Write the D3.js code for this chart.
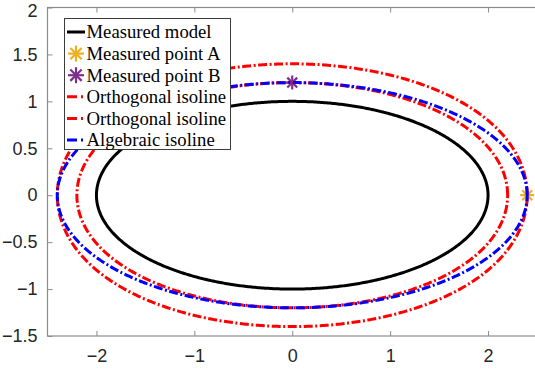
<!DOCTYPE html>
<html>
<head>
<meta charset="utf-8">
<script src="https://cdn.jsdelivr.net/npm/d3@7"></script>
<style>
  body { margin: 0; background: #fff; }
</style>
</head>
<body>
<div id="svg_container"></div>
<script>
// chart values
const modelAxes = [2, 1];            // semi-axes of the measured model ellipse
const orthoOffsets = [0.4, 0.2];     // normal distances of the two orthogonal isolines
const algebraicAxes = [2.4, 1.2];    // semi-axes of the algebraic isoline
const pointA = [2.4, 0];
const pointB = [0, 1.2];
const xTicks = [-2, -1, 0, 1, 2];
const yTicks = [-1.5, -1, -0.5, 0, 0.5, 1, 1.5, 2];
const legendLabels = ["Measured model", "Measured point A", "Measured point B",
    "Orthogonal isoline", "Orthogonal isoline", "Algebraic isoline"];

const W = 535, H = 369;
const margin = { top: 7.5, right: -2, bottom: 33, left: 47.5 },
    width = W - margin.left - margin.right,
    height = H - margin.top - margin.bottom;

const svg = d3.select("#svg_container")
    .append("svg")
    .attr("width", W)
    .attr("height", H)
    .append("g")
    .attr("transform", `translate(${margin.left}, ${margin.top})`);

const x = d3.scaleLinear().domain([-2.5, 2.5]).range([0, width]);
const y = d3.scaleLinear().domain([-1.5, 2]).range([height, 0]);

const axisColor = "#8c8c8c", textColor = "#262626";

function styleAxis(g) {
    g.selectAll("path").attr("stroke", axisColor).attr("stroke-width", 1.2);
    g.selectAll("line").attr("stroke", axisColor).attr("stroke-width", 1);
    g.selectAll("text").attr("fill", textColor)
        .attr("font-family", "Liberation Sans, Arial, sans-serif")
        .attr("font-size", "18px");
}

// bottom / left axes with labels, top / right with ticks only
svg.append("g")
    .attr("transform", `translate(0, ${height})`)
    .call(d3.axisBottom(x).tickValues(xTicks).tickSizeInner(-5).tickSizeOuter(0).tickPadding(13).tickFormat(d3.format("")))
    .call(styleAxis)
    .call(g => g.select(".domain").remove());
svg.append("g")
    .call(d3.axisLeft(y).tickValues(yTicks).tickSizeInner(-5).tickSizeOuter(0).tickPadding(10).tickFormat(d3.format("")))
    .call(styleAxis)
    .call(g => g.select(".domain").remove())
    // keep the top label inside the window
    .call(g => g.selectAll(".tick text").filter(d => d === 2).attr("dy", "0.5em"));
svg.append("g")
    .call(d3.axisTop(x).tickValues(xTicks).tickSizeInner(-5).tickSizeOuter(0).tickFormat(""))
    .call(styleAxis)
    .call(g => g.select(".domain").remove());

svg.append("rect")
    .attr("x", 0).attr("y", 0)
    .attr("width", width).attr("height", height)
    .attr("fill", "none")
    .attr("stroke", axisColor)
    .attr("stroke-width", 1.2);

svg.append("clipPath").attr("id", "plotclip")
    .append("rect").attr("width", width).attr("height", height);

const plot = svg.append("g").attr("clip-path", "url(#plotclip)");

const angles = d3.range(0, 721).map(i => i / 720 * 2 * Math.PI);

// ellipse with semi-axes a, b pushed out along its normal by distance d
function ellipsePoints(a, b, d) {
    return angles.map(t => {
        const nx = b * Math.cos(t), ny = a * Math.sin(t);
        const n = Math.hypot(nx, ny);
        return [a * Math.cos(t) + d * nx / n, b * Math.sin(t) + d * ny / n];
    });
}

const line = d3.line().x(d => x(d[0])).y(d => y(d[1]));

const dashDot = "9,2.5,2,2.5";

plot.append("path")
    .attr("d", line(ellipsePoints(modelAxes[0], modelAxes[1], 0)))
    .attr("fill", "none").attr("stroke", "#000").attr("stroke-width", 3);

function asterisk(g, cx, cy, color, r) {
    const grp = g.append("g").attr("transform", `translate(${cx}, ${cy})`);
    [0, 45, 90, 135].forEach(a => {
        const rad = a * Math.PI / 180;
        grp.append("line")
            .attr("x1", -r * Math.cos(rad)).attr("y1", -r * Math.sin(rad))
            .attr("x2", r * Math.cos(rad)).attr("y2", r * Math.sin(rad))
            .attr("stroke", color).attr("stroke-width", 2.2);
    });
}

asterisk(plot, x(pointA[0]), y(pointA[1]), "#EDB120", 7);
asterisk(plot, x(pointB[0]), y(pointB[1]), "#7E2F8E", 7);

orthoOffsets.forEach(d => {
    plot.append("path")
        .attr("d", line(ellipsePoints(modelAxes[0], modelAxes[1], d)))
        .attr("fill", "none").attr("stroke", "#ff0000").attr("stroke-width", 3)
        .attr("stroke-dasharray", dashDot);
});

plot.append("path")
    .attr("d", line(ellipsePoints(algebraicAxes[0], algebraicAxes[1], 0)))
    .attr("fill", "none").attr("stroke", "#0000ff").attr("stroke-width", 3)
    .attr("stroke-dasharray", dashDot);

// legend
const legend = svg.append("g").attr("transform", `translate(${64.5 - margin.left}, ${18.5 - margin.top})`);
legend.append("rect")
    .attr("width", 166).attr("height", 131)
    .attr("fill", "#fff").attr("stroke", "#3c3c3c").attr("stroke-width", 1);

const styles = [
    { type: "line", color: "#000", dash: null },
    { type: "marker", color: "#EDB120" },
    { type: "marker", color: "#7E2F8E" },
    { type: "line", color: "#ff0000", dash: "10,4,2,4" },
    { type: "line", color: "#ff0000", dash: "10,4,2,4" },
    { type: "line", color: "#0000ff", dash: "10,4,2,4" }
];

legendLabels.forEach((label, i) => {
    const cy = 13.5 + i * 21.6;
    const s = styles[i];
    if (s.type === "line") {
        legend.append("line")
            .attr("x1", 2.5).attr("x2", 20.5).attr("y1", cy).attr("y2", cy)
            .attr("stroke", s.color).attr("stroke-width", 3)
            .attr("stroke-dasharray", s.dash);
    } else {
        asterisk(legend, 11.5, cy, s.color, 8);
    }
    legend.append("text")
        .attr("x", 22).attr("y", cy + 6.3)
        .attr("font-family", "Liberation Serif, Times New Roman, serif")
        .attr("font-size", "18.7px")
        .attr("fill", "#000")
        .text(label);
});
</script>
</body>
</html>
